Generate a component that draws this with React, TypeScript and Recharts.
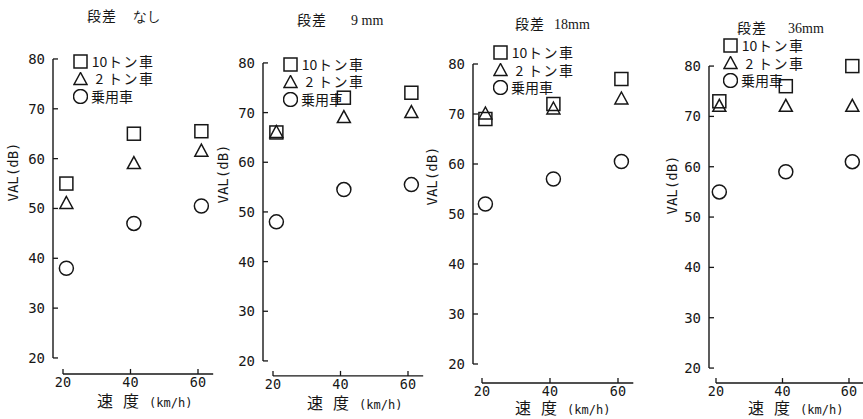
import React from "react";
import { ScatterChart, Scatter, XAxis, YAxis, ReferenceLine, Legend } from "recharts";

// speeds (km/h) as plotted, and VAL (dB) per panel: [20, 40, 60 km/h]
const speeds = [21, 41, 61];
const titleHeads = ["段差", "段差", "段差", "段差"];
const titleTails = ["なし", "9 mm", "18mm", "36mm"];
const truck10 = [
  [55, 65, 65.5],
  [66, 73, 74],
  [69, 72, 77],
  [73, 76, 80],
];
const truck2 = [
  [51, 59, 61.5],
  [66, 69, 70],
  [70, 71, 73],
  [72, 72, 72],
];
const car = [
  [38, 47, 50.5],
  [48, 54.5, 55.5],
  [52, 57, 60.5],
  [55, 59, 61],
];
const yTicks = [20, 30, 40, 50, 60, 70, 80];
const xTicks = [20, 40, 60];
const seriesNames = ["10トン車", "2 トン車", "乗用車"];

const INK = "#161616";
const MONO = "'DejaVu Sans Mono', monospace";
const CJK = "'Noto Sans CJK JP', sans-serif";
const SERIF = "'Liberation Serif', serif";

// page geometry of each panel (pixels)
const layout = [
  { yAxisX: 53, y80: 59, y20: 358, xAxisY: 374, x20: 63, x60: 198, title: [87, 15], gap: 16, legend: [73, 62], yLabel: [13, 172], xLabel: [97, 400] },
  { yAxisX: 263, y80: 63, y20: 361, xAxisY: 376, x20: 273, x60: 408, title: [297, 19], gap: 24, legend: [283, 65], yLabel: [223, 174], xLabel: [307, 402] },
  { yAxisX: 473, y80: 64, y20: 364, xAxisY: 383, x20: 482, x60: 618, title: [515, 23], gap: 9, legend: [493, 53], yLabel: [432, 176], xLabel: [515, 407] },
  { yAxisX: 709, y80: 66, y20: 368, xAxisY: 383, x20: 716, x60: 849, title: [737, 27], gap: 21, legend: [723, 46], yLabel: [672, 185], xLabel: [748, 407] },
];

const X_MAX = 64.5;
const Y_MAX = 82;

const Square = (p: any) => (
  <rect x={p.cx - 6.5} y={p.cy - 6.5} width={13} height={13} fill="none" stroke={INK} strokeWidth={1.5} />
);
const Triangle = (p: any) => (
  <polygon
    points={`${p.cx},${p.cy - 7} ${p.cx - 6.5},${p.cy + 5} ${p.cx + 6.5},${p.cy + 5}`}
    fill="none"
    stroke={INK}
    strokeWidth={1.5}
  />
);
const Ring = (p: any) => <circle cx={p.cx} cy={p.cy} r={7} fill="none" stroke={INK} strokeWidth={1.5} />;

const shapes = [Square, Triangle, Ring];

function YTick(p: any) {
  return (
    <g>
      <text x={p.x} y={p.y} dy={5} textAnchor="end" fontFamily={MONO} fontSize={14} fill={INK}>
        {p.payload.value}
      </text>
      <line x1={p.x + 8} x2={p.x + 13} y1={p.y} y2={p.y} stroke={INK} strokeWidth={1.3} />
    </g>
  );
}

function XTick(p: any) {
  return (
    <g>
      <line x1={p.x} x2={p.x} y1={p.y} y2={p.y - 5} stroke={INK} strokeWidth={1.3} />
      <text x={p.x} y={p.y + 13} textAnchor="middle" fontFamily={MONO} fontSize={13.5} fill={INK}>
        {p.payload.value}
      </text>
    </g>
  );
}

function LegendRows(props: any) {
  const items = props.payload || [];
  return (
    <div style={{ fontFamily: CJK, fontSize: 14, color: INK, lineHeight: "17.5px" }}>
      {items.map((item: any, i: number) => {
        const Icon = shapes[i];
        const label: string = item.value;
        const m = label.match(/^(\d*)\s*(.*)$/) || ["", "", label];
        return (
          <div key={i} style={{ display: "flex", alignItems: "center", height: 17.5, whiteSpace: "nowrap" }}>
            <svg width={15} height={15} style={{ marginRight: 3 }}>
              <Icon cx={7.5} cy={7.5} />
            </svg>
            {m[1] ? <span style={{ display: "inline-block", width: 17, textAlign: "center" }}>{m[1]}</span> : null}
            <span style={{ letterSpacing: m[1] ? 1.5 : 0 }}>{m[2]}</span>
          </div>
        );
      })}
    </div>
  );
}

function Panel({ idx }: { idx: number }) {
  const g = layout[idx];
  const pxX = (g.x60 - g.x20) / 40;
  const pxY = (g.y20 - g.y80) / 60;
  const xMin = 20 - (g.x20 - g.yAxisX) / pxX;
  const yMin = 20 - (g.xAxisY - g.y20) / pxY;
  const plotTop = g.y80 - (Y_MAX - 80) * pxY;
  const plotW = (X_MAX - xMin) * pxX;
  const plotH = g.xAxisY - plotTop;
  const YW = 50;
  const XH = 30;
  const MT = 6;
  const MR = 4;
  const left = g.yAxisX - YW;
  const top = plotTop - MT;
  const series = [truck10[idx], truck2[idx], car[idx]];

  return (
    <>
      <div style={{ position: "absolute", left, top }}>
        <ScatterChart width={YW + plotW + MR} height={MT + plotH + XH} margin={{ top: MT, right: MR, bottom: 0, left: 0 }}>
          <XAxis
            type="number"
            dataKey="x"
            domain={[xMin, X_MAX]}
            allowDataOverflow
            ticks={xTicks}
            interval={0}
            height={XH}
            axisLine={false}
            tickLine={false}
            tickSize={0}
            tickMargin={0}
            tick={<XTick />}
          />
          <YAxis
            type="number"
            dataKey="y"
            domain={[yMin, Y_MAX]}
            allowDataOverflow
            ticks={yTicks}
            interval={0}
            width={YW}
            axisLine={false}
            tickLine={false}
            tickSize={0}
            tickMargin={8}
            tick={<YTick />}
          />
          <ReferenceLine
            segment={[{ x: xMin, y: 20 }, { x: xMin, y: 80 }]}
            stroke={INK}
            strokeWidth={1.4}
            ifOverflow="visible"
          />
          <ReferenceLine
            segment={[{ x: 20, y: yMin }, { x: X_MAX, y: yMin }]}
            stroke={INK}
            strokeWidth={1.4}
            ifOverflow="visible"
          />
          {series.map((vals, s) => (
            <Scatter
              key={s}
              name={seriesNames[s]}
              data={speeds.map((v, i) => ({ x: v, y: vals[i] }))}
              shape={shapes[s]}
              isAnimationActive={false}
            />
          ))}
          <Legend
            layout="vertical"
            align="center"
            verticalAlign="middle"
            content={<LegendRows />}
            wrapperStyle={{ left: g.legend[0] - left, top: g.legend[1] - 9 - top, width: 110 }}
          />
        </ScatterChart>
      </div>
      <div
        style={{
          position: "absolute",
          left: g.title[0],
          top: g.title[1] - 10,
          fontSize: 14,
          color: INK,
          whiteSpace: "pre",
          lineHeight: "20px",
        }}
      >
        <span style={{ fontFamily: CJK, letterSpacing: 1 }}>{titleHeads[idx]}</span>
        <span style={{ fontFamily: SERIF, marginLeft: g.gap }}>{titleTails[idx]}</span>
      </div>
      <div
        style={{
          position: "absolute",
          left: g.yLabel[0],
          top: g.yLabel[1],
          transform: "translate(-50%, -50%) rotate(-90deg)",
          fontFamily: MONO,
          fontSize: 14,
          color: INK,
          whiteSpace: "nowrap",
          lineHeight: "16px",
        }}
      >
        VAL(dB)
      </div>
      <div
        style={{
          position: "absolute",
          left: g.xLabel[0],
          top: g.xLabel[1] - 8,
          color: INK,
          whiteSpace: "pre",
          lineHeight: "16px",
        }}
      >
        <span style={{ fontFamily: CJK, fontSize: 16, letterSpacing: 10 }}>速度</span>
        <span style={{ fontFamily: MONO, fontSize: 12 }}>(km/h)</span>
      </div>
    </>
  );
}

export default function App() {
  return (
    <div
      style={{
        position: "absolute",
        left: 0,
        top: 0,
        width: 863,
        height: 419,
        overflow: "hidden",
        background: "#fff",
      }}
    >
      {layout.map((_, i) => (
        <Panel key={i} idx={i} />
      ))}
    </div>
  );
}
